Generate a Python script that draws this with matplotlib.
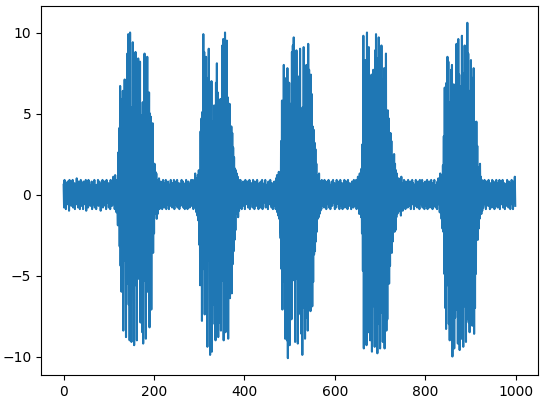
import numpy as np
import matplotlib
matplotlib.use('Agg')
import matplotlib.pyplot as plt

# quiet stretches and bursts, in order along x
quiet_0 = [
    0.6, -0.8, 0.9, -0.3, 0.2, -0.9, 0.7, 0.1, -0.6, 0.8,
    -0.2, 0.4, -1.0, 0.9, -0.5, 0.3, 0.8, -0.7, 0.0, -0.4,
    0.9, -0.8, 0.5, -0.1, 0.7, -0.9, 0.2, 0.6, -0.6, 1.0,
    -0.3, 0.1, -0.8, 0.8, -0.5, 0.4, -0.9, 0.3, 0.9, -0.2,
    -0.7, 0.6, 0.0, -0.9, 0.8, -0.4, 0.5, -0.6, 0.2, 0.9,
    -1.0, 0.7, -0.1, 0.3, -0.8, 0.9, -0.5, 0.1, 0.6, -0.7,
    0.4, -0.3, 0.8, -0.9, 0.2, 0.7, -0.6, 0.0, 0.9, -0.8,
    0.5, -0.2, -0.9, 0.6, 0.3, -0.5, 0.9, -0.7, 0.1, 0.8,
    -0.4, 0.6, -1.0, 0.2, 0.7, -0.3, 0.9, -0.8, 0.4, -0.6,
    0.8, 0.0, -0.7, 0.5, -0.9, 0.9, -0.2, 0.3, -0.5, 0.7,
    -0.8, 0.6, 0.1, -0.9, 0.9, -0.4, 0.2, -0.7, 0.8, -0.1,
    1.1, -0.6, 0.4, -0.9, 1.2, -0.3, 0.7, -1.1, 0.9, -0.5,
]
burst_1 = [
    -1.9, 2.6, -0.7, 4.1, -3.2, 6.7, -4.4, 2.8, -6.0, 5.9,
    -3.5, 6.4, -8.4, 5.3, -4.1, 7.1, -4.0, 5.6, -8.8, 3.2,
    -5.5, 8.7, -2.9, 9.9, -6.8, 4.2, -9.0, 10.0, -3.3, 5.4,
    -9.1, 4.5, -5.8, 9.4, -4.6, 1.8, -9.3, 3.1, -5.6, 8.8,
    -5.0, 4.7, -9.0, 5.3, -4.1, 8.4, -5.2, 5.8, -3.6, 8.2,
    -7.9, 4.9, -3.4, 4.6, -8.5, 5.7, -9.2, 2.5, -5.3, 8.7,
    -4.4, 3.4, -8.9, 5.2, -5.1, 8.5, -6.0, 4.5, -3.0, 6.3,
    -8.2, 5.0, -3.9, 4.8, -7.1, 3.1, -2.4, 4.4, -3.6, 1.6,
    -2.4, 1.9, -0.6, 1.4, -1.2,
]
quiet_1 = [
    1.3, -1.5, 0.8, -1.2, 0.9, -0.6, 1.0, -0.9, 0.4, -0.7,
    0.8, -0.2, 0.6, -0.9, 0.3, 0.9, -0.5, 0.1, -0.8, 0.7,
    -0.4, 0.9, -0.9, 0.2, 0.5, -0.6, 0.8, -0.1, -0.9, 0.6,
    0.3, -0.7, 0.9, -0.3, 0.0, -0.8, 0.7, 0.4, -0.5, 0.9,
    -0.9, 0.2, 0.8, -0.6, 0.1, -0.4, 0.9, -0.8, 0.5, -0.2,
    0.7, -0.9, 0.3, 0.6, -0.7, 0.0, 0.9, -0.5, -0.3, 0.8,
    -0.8, 0.4, 0.1, -0.9, 0.7, -0.2, 0.9, -0.6, 0.5, -0.9,
    0.2, 0.8, -0.4, 0.6, -0.8, 0.3, -0.1, 0.9, -0.7, 0.5,
    -0.6, 0.9, -0.9, 0.1, 0.7, -0.5, 1.3, -0.8, 0.6, -1.1,
    1.0, -1.3, 1.2, -1.6, 1.5,
]
burst_2 = [
    -3.1, 1.4, -5.6, 3.9, -4.8, 4.7, -7.8, 5.1, -3.3, 9.9,
    -4.6, 8.8, -7.4, 5.6, -6.2, 8.5, -4.7, 7.2, -9.4, 4.8,
    -4.1, 9.0, -3.9, 6.6, -9.9, 5.4, -2.5, 7.0, -9.7, 4.5,
    -6.8, 4.3, -5.2, 5.5, -8.0, 5.2, -9.0, 6.9, -3.1, 8.1,
    -5.4, 6.3, -8.8, 4.7, -5.9, 3.6, -7.9, 5.9, -8.4, 4.8,
    -4.5, 9.2, -5.3, 9.6, -9.0, 4.8, -4.5, 10.0, -8.5, 5.1,
    -7.2, 9.5, -4.3, 6.0, -8.9, 3.7, -5.0, 5.6, -6.4, 4.2,
    -3.0, 4.2, -6.1, 3.8, -4.3, 2.9, -3.5, 2.3, -2.8, 1.6,
    -2.2, 1.5, -0.7, 1.3, -1.2,
]
quiet_2 = [
    1.1, -1.4, 0.9, -1.0, 0.6, -0.8, 0.9, -0.3, 0.2, -0.9,
    0.7, -0.5, 0.8, 0.1, -0.7, 0.4, -0.9, 0.9, -0.2, 0.5,
    -0.6, 0.3, 0.8, -0.8, 0.0, -0.4, 0.9, -0.9, 0.6, 0.2,
    -0.5, 0.7, -0.1, -0.8, 0.9, -0.3, 0.4, -0.9, 0.8, -0.6,
    0.1, 0.6, -0.7, 0.9, -0.2, 0.3, -0.9, 0.5, 0.7, -0.4,
    -0.8, 0.8, 0.0, -0.6, 0.9, -0.9, 0.2, 0.4, -0.5, 0.7,
    -0.3, 0.9, -0.8, 0.1, 0.6, -0.7, 0.3, -0.9, 0.8, -0.1,
    0.5, -0.6, 0.9, -0.4, 0.2, -0.8, 0.7, 0.0, -0.9, 0.6,
    -0.2, 0.8, -0.7, 0.4, -0.9, 1.0, -0.5, 1.2, -1.1, 0.8,
    -1.3, 1.4, -1.5, 1.1, -1.8,
]
burst_3 = [
    -2.7, 3.3, -4.6, 5.8, -7.1, 4.9, -4.2, 8.0, -5.4, 7.2,
    -8.9, 4.5, -7.5, 3.1, -9.0, 7.8, -10.1, 5.4, -3.7, 6.9,
    -9.3, 5.6, -4.8, 5.1, -7.7, 8.8, -4.9, 9.2, -4.4, 9.7,
    -5.3, 8.4, -9.1, 4.0, -5.2, 8.9, -1.5, 3.7, -9.2, 5.9,
    -6.9, 7.3, -4.2, 9.0, -7.4, 5.3, -8.6, 4.5, -9.9, 5.4,
    -3.3, 9.1, -7.0, 4.4, -8.9, 6.8, -4.9, 8.0, -7.6, 3.0,
    -8.4, 9.3, -4.8, 7.7, -4.2, 5.6, -7.2, 7.4, -4.7, 6.2,
    -6.9, 4.2, -5.4, 4.0, -3.7, 3.2, -3.5, 2.8, -2.9, 1.9,
    -2.3, 0.6, -1.5, 1.2, -1.4,
]
quiet_3 = [
    1.3, -1.2, 0.8, -1.0, 0.5, -0.9, 0.9, -0.4, 0.2, -0.7,
    0.6, -0.8, 0.9, 0.0, -0.5, 0.7, -0.9, 0.3, 0.8, -0.2,
    -0.6, 0.9, -0.8, 0.4, 0.1, -0.9, 0.6, -0.3, 0.8, -0.7,
    0.2, 0.9, -0.5, -0.1, 0.7, -0.9, 0.5, 0.3, -0.8, 0.9,
    -0.4, 0.1, 0.8, -0.6, 0.6, -0.9, 0.0, 0.9, -0.7, 0.4,
    -0.2, 0.7, -0.9, 0.5, 0.2, -0.6, 0.9, -0.8, 0.3, -0.1,
    0.8, -0.5, 0.6, -0.9, 0.9, -0.3, 0.1, -0.7, 0.7, -0.4,
    0.5, -0.9, 0.2, 0.8, -0.6, 0.0, -0.8, 0.9, -0.2, 0.6,
    -0.7, 0.4, 0.9, -0.9, 0.3, -0.5, 1.1, -0.8, 0.7, -1.2,
    1.3, -0.9, 1.0, -1.4, 1.6,
]
burst_4 = [
    -2.4, 3.1, -4.7, 9.8, -9.5, 5.6, -6.4, 8.3, -4.2, 7.9,
    -9.3, 10.0, -3.6, 4.8, -8.5, 9.1, -5.2, 5.0, -9.0, 4.4,
    -4.8, 7.4, -9.7, 5.6, -6.9, 7.7, -5.1, 5.9, -9.4, 8.9,
    -4.9, 9.9, -3.5, 5.0, -9.8, 8.4, -4.6, 9.7, -8.0, 5.3,
    -9.5, 4.1, -7.3, 9.2, -4.4, 7.1, -9.1, 5.9, -6.6, 7.8,
    -9.5, 4.7, -3.0, 8.7, -8.4, 4.9, -7.7, 5.2, -4.8, 4.7,
    -5.5, 3.4, -4.4, 3.8, -2.6, 3.3, -3.6, 2.1, -2.9, 2.4,
    -1.8, 2.5, -2.3, 1.9, -2.2, 1.5, -1.4, 1.3, -1.2, 0.9,
    -1.1, 1.0, -0.8, 0.7, -1.0,
]
quiet_4 = [
    0.9, -1.3, 1.1, -0.8, 0.7, -1.0, 0.4, -0.6, 0.9, -0.2,
    0.3, -0.9, 0.8, -0.5, 0.1, 0.6, -0.8, 0.9, -0.3, 0.0,
    -0.7, 0.5, 0.8, -0.9, 0.2, -0.4, 0.9, -0.6, 0.7, -0.1,
    -0.9, 0.4, 0.6, -0.7, 0.9, -0.3, 0.1, -0.8, 0.5, 0.8,
    -0.5, 0.2, -0.9, 0.9, -0.2, 0.6, -0.6, 0.3, 0.9, -0.8,
    0.0, -0.4, 0.7, -0.9, 0.5, 0.8, -0.7, 0.1, -0.3, 0.9,
    -0.9, 0.6, 0.2, -0.5, 0.8, -0.8, 0.4, -0.1, 0.9, -0.6,
    0.3, -0.9, 0.7, -0.2, 0.5, 0.9, -0.7, 0.0, -0.8, 0.6,
    0.4, -0.9, 0.8, -0.3, 1.0, -0.6, 0.7, -1.1, 1.3, -0.9,
    1.2, -1.5, 1.0, -2.1, 1.8,
]
burst_5 = [
    -2.3, 3.6, -4.9, 6.6, -7.0, 4.8, -8.3, 6.9, -4.4, 8.5,
    -5.6, 8.2, -8.0, 3.1, -9.0, 5.7, -8.6, 7.7, -4.5, 8.0,
    -10.0, 5.3, -4.4, 6.8, -9.5, 4.9, -7.6, 5.9, -2.8, 9.3,
    -7.1, 4.6, -9.2, 9.6, -5.0, 7.4, -9.6, 4.4, -5.3, 6.7,
    -8.9, 9.8, -4.3, 7.5, -9.4, 5.1, -6.9, 9.2, -3.8, 7.0,
    -9.1, 3.4, -7.7, 10.6, -4.3, 8.7, -7.9, 5.5, -8.5, 6.4,
    -5.0, 8.3, -7.4, 4.0, -8.1, 7.2, -4.6, 7.8, -8.6, 4.5,
    -7.0, 3.2, -4.9, 4.5, -2.7, 3.0, -2.8, 1.4, -2.1, 1.7,
    -1.5, 1.9, -0.3, 1.1, -1.2,
]
quiet_5 = [
    0.9, -1.0, 0.7, -0.8, 0.4, -0.6, 0.9, -0.2, 0.1, -0.9,
    0.8, -0.5, 0.6, 0.0, -0.7, 0.9, -0.3, 0.3, -0.9, 0.7,
    -0.1, 0.5, -0.8, 0.9, 0.2, -0.6, 0.8, -0.4, -0.9, 0.6,
    0.3, -0.7, 0.9, -0.2, 0.0, -0.8, 0.7, 0.4, -0.5, 0.9,
    -0.9, 0.1, 0.8, -0.6, 0.5, -0.3, 0.9, -0.8, 0.2, -0.1,
    0.7, -0.9, 0.4, 0.6, -0.7, 0.0, 0.9, -0.5, 0.3, -0.8,
    0.8, -0.4, 0.1, -0.9, 0.7, -0.2, 0.9, -0.6, 0.5, -0.9,
    0.2, 0.8, -0.4, 1.1, -0.7,
]

signal = np.concatenate([quiet_0, burst_1, quiet_1, burst_2, quiet_2, burst_3,
                         quiet_3, burst_4, quiet_4, burst_5, quiet_5])
t = np.arange(len(signal))

fig = plt.figure(figsize=(5.4, 4.01), dpi=100)
ax = fig.add_axes([0.076, 0.065, 0.920, 0.920])
ax.plot(t, signal)

fig.savefig('out.png', dpi=100)
plt.close(fig)
